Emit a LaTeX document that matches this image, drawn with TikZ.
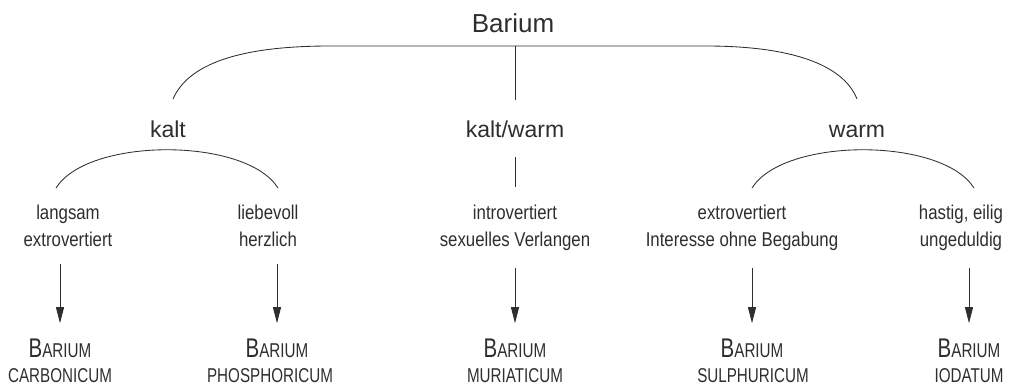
\documentclass[tikz,border=0pt]{standalone}
\usepackage{fontspec}
\setmainfont{Liberation Sans}
\newfontfamily\condfont[FakeStretch=0.84]{Liberation Sans}
\newfontfamily\remfont[FakeStretch=0.76]{Liberation Sans}
\usetikzlibrary{arrows.meta}
\definecolor{ink}{HTML}{2E2E2E}
\begin{document}
\begin{tikzpicture}[x=1pt,y=-1pt,
  every node/.style={inner sep=0pt,text=ink,anchor=base},
  toplab/.style={font=\fontsize{26}{30}\selectfont},
  midlab/.style={font=\fontsize{23}{27}\selectfont},
  desc/.style={font=\condfont\fontsize{20}{24}\selectfont},
  remA/.style={font=\remfont\fontsize{20}{24}\selectfont},
  remB/.style={font=\remfont\fontsize{20}{24}\selectfont},
  ln/.style={draw=ink,line width=0.85pt},
  arr/.style={ln,-{Triangle[length=16pt,width=8pt]},shorten <=18pt,shorten >=15pt}]
\useasboundingbox (0,0) rectangle (1012,386);

% level 1
\node[toplab] (ba) at (513,32) {Barium};
% level 2
\node[midlab] (kalt) at (168,137) {kalt};
\node[midlab] (kw) at (515,137) {kalt/warm};
\node[midlab] (warm) at (857,137) {warm};

% bracket from Barium
\coordinate (tl) at (173,99);
\coordinate (tr) at (857,99);
\coordinate (tm) at (515,100);
\draw[ln] (tl) .. controls (190,60) and (250,46) .. (330,46) -- (706,46)
  .. controls (790,46) and (843,64) .. (tr);
\draw[ln] (515,46) -- (tm);

% level 3 descriptions
\node[desc] (d1a) at (68,219) {langsam};
\node[desc] (d1b) at (68,246) {extrovertiert};
\node[desc] (d2a) at (268,219) {liebevoll};
\node[desc] (d2b) at (268,246) {herzlich};
\node[desc] (d3a) at (515,219) {introvertiert};
\node[desc] (d3b) at (515,246) {sexuelles Verlangen};
\node[desc] (d4a) at (742,219) {extrovertiert};
\node[desc] (d4b) at (742,246) {Interesse ohne Begabung};
\node[desc] (d5a) at (961,219) {hastig, eilig};
\node[desc] (d5b) at (961,246) {ungeduldig};

% lower brackets
\draw[ln] (56,188) .. controls (88,137) and (246,137) .. (278,188);
\draw[ln] (752,188) .. controls (784,137) and (942,137) .. (974,188);
\draw[ln] (515,157) -- (515,187);

% remedies
\newcommand\bigB{{\fontsize{27}{30}\selectfont B}}
\node[remA] (r1a) at (60,357) {\bigB ARIUM};
\node[remB] (r1b) at (60,382) {CARBONICUM};
\node[remA] (r2a) at (277,357) {\bigB ARIUM};
\node[remB] (r2b) at (270,382) {PHOSPHORICUM};
\node[remA] (r3a) at (515,357) {\bigB ARIUM};
\node[remB] (r3b) at (515,382) {MURIATICUM};
\node[remA] (r4a) at (752,357) {\bigB ARIUM};
\node[remB] (r4b) at (753,382) {SULPHURICUM};
\node[remA] (r5a) at (969,357) {\bigB ARIUM};
\node[remB] (r5b) at (969,382) {IODATUM};

% arrows
\foreach \i in {1,...,5}{
  \draw[arr] (r\i a.north |- d\i b.south) -- (r\i a.north);
}
\end{tikzpicture}
\end{document}
